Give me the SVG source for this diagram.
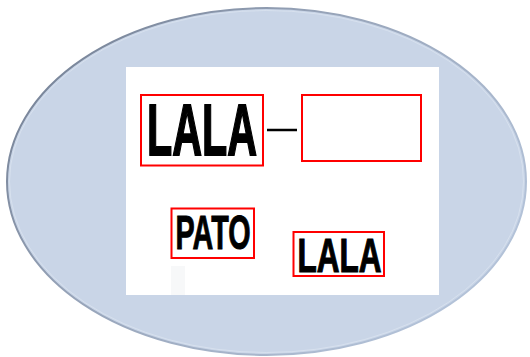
<svg xmlns="http://www.w3.org/2000/svg" width="530" height="357" viewBox="0 0 530 357">
  <defs>
    <linearGradient id="rim" x1="0" y1="0" x2="1" y2="0.6">
      <stop offset="0" stop-color="#6c788c"/>
      <stop offset="0.45" stop-color="#96a3b8"/>
      <stop offset="1" stop-color="#b3c2d8"/>
    </linearGradient>
    <style>
      .box { fill: none; stroke: #ff0000; stroke-width: 2; }
      .lbl { font-family: "Liberation Sans Narrow", "Liberation Sans", Arial, sans-serif; font-weight: bold; fill: #000; stroke: #000; stroke-linejoin: miter; }
    </style>
  </defs>
  <rect width="530" height="357" fill="#ffffff"/>
  <g id="background">
    <ellipse cx="266.5" cy="181.5" rx="259.5" ry="173.5" fill="#c9d5e7" stroke="url(#rim)" stroke-width="2"/>
    <ellipse cx="266.5" cy="181.5" rx="257" ry="171" fill="none" stroke="#dde5f1" stroke-width="1" opacity="0.7"/>
    <rect x="126" y="67" width="313" height="228" fill="#ffffff"/>
    <rect x="171" y="266" width="14" height="29" fill="#f7f8f9"/>
  </g>
  <g id="connectors">
    <line x1="267" y1="130" x2="297" y2="130" stroke="#000" stroke-width="2.5"/>
  </g>
  <g id="node-lala-big">
    <rect class="box" x="141" y="95" width="122" height="70.5"/>
    <text class="lbl" x="147" y="154.5" font-size="73" stroke-width="1.8" textLength="110" lengthAdjust="spacingAndGlyphs">LALA</text>
  </g>
  <g id="node-empty">
    <rect class="box" x="302" y="95" width="119" height="66"/>
  </g>
  <g id="node-pato">
    <rect class="box" x="171.5" y="208.5" width="82.5" height="49.5"/>
    <text class="lbl" x="175.5" y="249" font-size="47.5" stroke-width="1" textLength="75" lengthAdjust="spacingAndGlyphs">PATO</text>
  </g>
  <g id="node-lala-small">
    <rect class="box" x="293.5" y="232" width="90.5" height="44"/>
    <text class="lbl" x="297.5" y="271.5" font-size="48.5" stroke-width="1.2" textLength="84" lengthAdjust="spacingAndGlyphs">LALA</text>
  </g>
</svg>
